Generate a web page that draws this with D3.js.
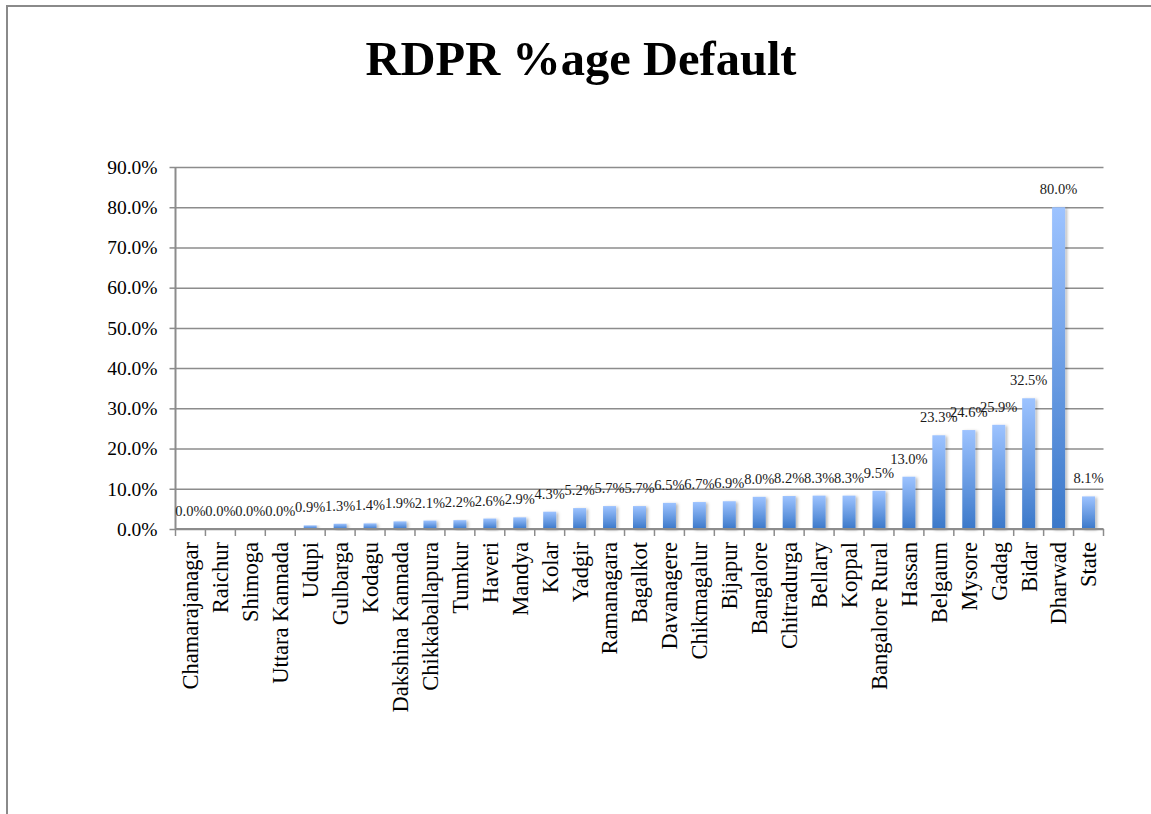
<!DOCTYPE html>
<html>
<head>
<meta charset="utf-8">
<script src="https://cdn.jsdelivr.net/npm/d3@7"></script>
<style>
  html, body { margin: 0; padding: 0; background: #fff; }
  svg { display: block; }
</style>
</head>
<body>
<svg id="chart" width="1151" height="814"></svg>
<script>
const categories = ["Chamarajanagar","Raichur","Shimoga","Uttara Kannada","Udupi","Gulbarga","Kodagu","Dakshina Kannada","Chikkaballapura","Tumkur","Haveri","Mandya","Kolar","Yadgir","Ramanagara","Bagalkot","Davanagere","Chikmagalur","Bijapur","Bangalore","Chitradurga","Bellary","Koppal","Bangalore Rural","Hassan","Belgaum","Mysore","Gadag","Bidar","Dharwad","State"];
const values = [0.0,0.0,0.0,0.0,0.9,1.3,1.4,1.9,2.1,2.2,2.6,2.9,4.3,5.2,5.7,5.7,6.5,6.7,6.9,8.0,8.2,8.3,8.3,9.5,13.0,23.3,24.6,25.9,32.5,80.0,8.1];
const yTicks = [0,10,20,30,40,50,60,70,80,90];
const title = "RDPR %age Default";

const svg = d3.select("#chart");
const pLeft = 175.5, pRight = 1103.5, pTop = 167, pBottom = 529;

// frame
svg.append("rect").attr("x", 7).attr("y", 6).attr("width", 1200).attr("height", 900)
  .attr("fill", "none").attr("stroke", "#8a8a8a").attr("stroke-width", 2);

const defs = svg.append("defs");
const grad = defs.append("linearGradient").attr("id", "barGrad")
  .attr("x1", 0).attr("y1", 0).attr("x2", 0).attr("y2", 1);
grad.append("stop").attr("offset", "0%").attr("stop-color", "#9dc3ff");
grad.append("stop").attr("offset", "100%").attr("stop-color", "#3b78c9");
const filt = defs.append("filter").attr("id", "shadow").attr("x", "-50%").attr("y", "-10%").attr("width", "200%").attr("height", "130%");
filt.append("feDropShadow").attr("dx", 2).attr("dy", 1).attr("stdDeviation", 1.5)
  .attr("flood-color", "#000").attr("flood-opacity", 0.28);

const x = d3.scaleBand().domain(categories).range([pLeft, pRight]).paddingInner(0).paddingOuter(0);
const y = d3.scaleLinear().domain([0, 90]).range([pBottom, pTop]);

// title
svg.append("text").attr("x", 581).attr("y", 75).attr("text-anchor", "middle")
  .attr("font-family", "'Liberation Serif', 'Times New Roman', serif")
  .attr("font-weight", "bold").attr("font-size", 48.5).attr("fill", "#000").text(title);

// gridlines + y axis
const yAxis = d3.axisLeft(y).tickValues(yTicks).tickFormat(d => d.toFixed(1) + "%")
  .tickSize(-(pRight - pLeft)).tickPadding(18);
const gy = svg.append("g").attr("transform", `translate(${pLeft},0)`).call(yAxis);
gy.select(".domain").remove();
gy.selectAll(".tick line").attr("stroke", "#8c8c8c").attr("stroke-width", 1.5);
gy.selectAll(".tick").append("line").attr("x1", -6).attr("x2", 0)
  .attr("stroke", "#8c8c8c").attr("stroke-width", 1.5);
gy.selectAll(".tick text").attr("font-family", "'Liberation Serif', serif")
  .attr("font-size", 19.5).attr("fill", "#000");

// y axis line
svg.append("line").attr("x1", pLeft).attr("x2", pLeft).attr("y1", pTop).attr("y2", pBottom)
  .attr("stroke", "#8c8c8c").attr("stroke-width", 2);

// bars
const barW = 13;
svg.append("g").selectAll("rect").data(values).join("rect")
  .attr("x", (d, i) => x(categories[i]) + x.bandwidth() / 2 - barW / 2)
  .attr("y", d => y(d))
  .attr("width", barW)
  .attr("height", d => y(0) - y(d))
  .attr("fill", "url(#barGrad)")
  .attr("filter", "url(#shadow)");

// data labels
svg.append("g").selectAll("text").data(values).join("text")
  .attr("x", (d, i) => x(categories[i]) + x.bandwidth() / 2)
  .attr("y", d => y(d) - 18)
  .attr("dy", "0.35em")
  .attr("text-anchor", "middle")
  .attr("font-family", "'Liberation Serif', serif")
  .attr("font-size", 14.5).attr("fill", "#1a1a1a")
  .text(d => d.toFixed(1) + "%");

// x axis
svg.append("line").attr("x1", pLeft).attr("x2", pRight).attr("y1", pBottom).attr("y2", pBottom)
  .attr("stroke", "#8c8c8c").attr("stroke-width", 2);
const bounds = categories.map(c => x(c)).concat([pRight]);
svg.append("g").selectAll("line").data(bounds).join("line")
  .attr("x1", d => d).attr("x2", d => d).attr("y1", pBottom).attr("y2", pBottom + 7)
  .attr("stroke", "#8c8c8c").attr("stroke-width", 1.5);

svg.append("g").selectAll("text").data(categories).join("text")
  .attr("transform", d => `translate(${x(d) + x.bandwidth() / 2},${pBottom + 13}) rotate(-90)`)
  .attr("text-anchor", "end").attr("dy", "0.35em")
  .attr("font-family", "'Liberation Serif', serif")
  .attr("font-size", 22.5).attr("fill", "#000")
  .text(d => d);
</script>
</body>
</html>
